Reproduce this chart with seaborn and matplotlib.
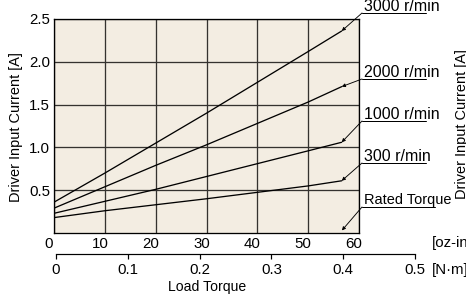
import pandas as pd
import matplotlib
matplotlib.use("Agg")
import matplotlib.pyplot as plt
import matplotlib.transforms as mtransforms
from matplotlib.lines import Line2D
import seaborn as sns

# load torque sample points [oz-in]; last point = rated torque (0.4 N·m)
torque_oz = [0, 10, 20, 30, 40, 50, 56.6]
current_3000 = [0.36, 0.70, 1.05, 1.40, 1.76, 2.12, 2.36]
current_2000 = [0.29, 0.54, 0.79, 1.03, 1.28, 1.53, 1.71]
current_1000 = [0.23, 0.37, 0.51, 0.66, 0.81, 0.96, 1.06]
current_300 = [0.18, 0.26, 0.33, 0.40, 0.475, 0.55, 0.61]
speed_labels = ["3000 r/min", "2000 r/min", "1000 r/min", "300 r/min"]
rated_torque_nm = 0.4

oz_ticks = [0, 10, 20, 30, 40, 50, 60]
nm_ticks = [0, 0.1, 0.2, 0.3, 0.4, 0.5]
current_ticks = [0.5, 1.0, 1.5, 2.0, 2.5]
OZIN_PER_NM = 141.6

curves = [current_3000, current_2000, current_1000, current_300]
df = pd.concat(
    [pd.DataFrame({"torque": torque_oz, "current": c, "speed": s})
     for c, s in zip(curves, speed_labels)],
    ignore_index=True,
)

sns.set_theme(style="white")
plt.rcParams["font.family"] = ["Liberation Sans", "DejaVu Sans"]
for key in ["text.color", "axes.labelcolor", "xtick.color", "ytick.color"]:
    plt.rcParams[key] = "black"

W, H = 466, 302
fig = plt.figure(figsize=(W / 72, H / 72), dpi=72)


def fx(px):
    return px / W


def fy(py):
    return 1 - py / H


ax = fig.add_axes([fx(54), fy(233), fx(359) - fx(54), fy(19) - fy(233)])
ax.set_facecolor("#f3ede2")
sns.lineplot(data=df, x="torque", y="current", hue="speed",
             palette={s: "black" for s in speed_labels}, legend=False,
             ax=ax, linewidth=1.3)
ax.set_xlim(0, 60)
ax.set_ylim(0, 2.5)
ax.set_xticks(oz_ticks)
ax.set_xticklabels([str(t) for t in oz_ticks])
ax.set_yticks(current_ticks)
ax.set_yticklabels([f"{v:.1f}" for v in current_ticks])
ax.set_axisbelow(True)
ax.grid(True, color="#34322f", lw=1.3)
ax.tick_params(length=0, labelsize=15, pad=4)
ax.set_xlabel("")
ax.set_ylabel("")
for sp in ax.spines.values():
    sp.set_color("black")
    sp.set_linewidth(1.3)

# oz-in labels sit a little left of their gridlines
shift = mtransforms.ScaledTranslation(-5 / 72, 0, fig.dpi_scale_trans)
for lbl in ax.get_xticklabels():
    lbl.set_transform(lbl.get_transform() + shift)

# N·m scale below
ax_nm = fig.add_axes([fx(56), fy(254), fx(415) - fx(56), 0.0001])
ax_nm.set_xlim(0, 0.5)
ax_nm.set_xticks(nm_ticks)
ax_nm.set_xticklabels(["0"] + [f"{t:.1f}" for t in nm_ticks[1:]])
ax_nm.set_yticks([])
ax_nm.patch.set_visible(False)
for side in ["top", "left", "right"]:
    ax_nm.spines[side].set_visible(False)
ax_nm.spines["bottom"].set_color("black")
ax_nm.spines["bottom"].set_linewidth(1.2)
ax_nm.tick_params(axis="x", direction="out", length=5, width=1.2,
                  labelsize=15, pad=4, bottom=True)

fig.text(fx(16), fy(127), "Driver Input Current [A]", rotation=90,
         ha="center", va="center", fontsize=14.5)
fig.text(fx(462), fy(124), "Driver Input Current [A]", rotation=90,
         ha="center", va="center", fontsize=14.5)
fig.text(fx(207), fy(287), "Load Torque", ha="center", va="center", fontsize=14)
fig.text(fx(432), fy(243), "[oz-in]", ha="left", va="center", fontsize=15)
fig.text(fx(432), fy(270), "[N·m]", ha="left", va="center", fontsize=15)

# callouts
label_y = [13, 79, 121, 163]
arrow_kw = dict(arrowstyle="-|>", color="black", lw=0.9, mutation_scale=7,
                shrinkA=0, shrinkB=0)
for name, curve, uy in zip(speed_labels, curves, label_y):
    fig.text(fx(364), fy(uy - 2), name, ha="left", va="baseline", fontsize=16)
    fig.add_artist(Line2D([fx(362), fx(426)], [fy(uy), fy(uy)],
                          transform=fig.transFigure, color="black", lw=1))
    ax.annotate("", xy=(torque_oz[-1], curve[-1]), xycoords="data",
                xytext=(fx(362), fy(uy)), textcoords="figure fraction",
                arrowprops=arrow_kw, annotation_clip=False)

fig.text(fx(364), fy(204), "Rated Torque", ha="left", va="baseline", fontsize=14.5)
fig.add_artist(Line2D([fx(362), fx(435)], [fy(207), fy(207)],
                      transform=fig.transFigure, color="black", lw=1))
ax.annotate("", xy=(rated_torque_nm * OZIN_PER_NM, 0.03), xycoords="data",
            xytext=(fx(362), fy(207)), textcoords="figure fraction",
            arrowprops=arrow_kw, annotation_clip=False)

fig.savefig("out.png", dpi=72)
